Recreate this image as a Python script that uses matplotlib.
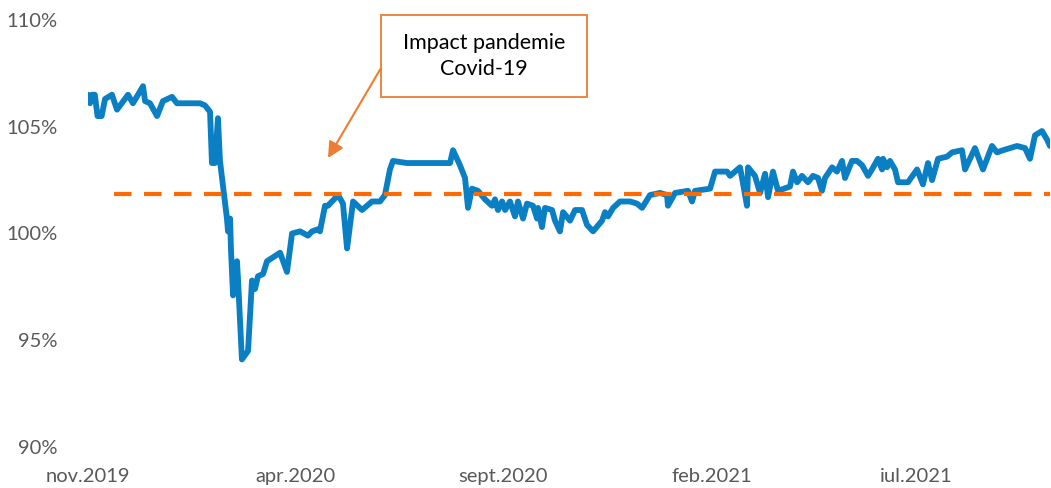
import numpy as np
import pandas as pd
import matplotlib
matplotlib.use("Agg")
import matplotlib.pyplot as plt
from matplotlib.patches import Rectangle

# zile de la 1 nov 2019 si valoarea indicelui (%)
zile = [0, 1.5, 3, 5, 7, 10, 12.5, 17.6, 21.3, 29.4, 33, 36.7, 40.4, 41.9, 45.5, 50.7, 55, 61.7, 65.3,
        82.2, 85.9, 89.6, 91, 93.2, 95.4, 96.9, 102, 102.8, 104.3, 105, 106.5, 109.4, 110.1, 113, 117.5,
        120.4, 122.6, 124.8, 128.5, 131.4, 141, 146.1, 149.8, 155.7, 161.5, 164.5, 168.9, 170.3, 174,
        176.2, 183.6, 187.2, 190.2, 194.6, 201.2, 204.8, 208.5, 214.4, 218, 221.7, 223.9, 234.2, 253.3,
        265.8, 268, 273.1, 276.8, 279, 281.9, 286.3, 291.5, 296.6, 298.8, 301, 304, 306.2, 309.8, 313.5,
        315.7, 319.4, 322.3, 326.7, 329.7, 330.4, 333.3, 335.5, 340.7, 342.9, 346.5, 348.8, 353.9, 357.6,
        362.7, 366.4, 370.8, 377.4, 379.6, 381.8, 385.5, 390.6, 398, 403.1, 406.8, 412.6, 420, 425.1,
        425.8, 431, 440.5, 443.5, 445.7, 456.7, 460.4, 469.2, 471.4, 478.7, 480.2, 483.8, 484.6, 489.7,
        493.4, 497.1, 499.3, 502.9, 506.6, 515.4, 517.6, 520.6, 524.2, 528.6, 532.3, 536, 538.9, 541.1,
        546.3, 549.9, 553.6, 555.8, 560.9, 564.6, 568.3, 572.7, 575.6, 580, 583, 583.7, 586.6, 588.8,
        592.5, 594.7, 602, 608.7, 613, 616.7, 619.7, 624.1, 630.7, 634.4, 641.7, 643.9, 651.2, 657.1,
        663.7, 667.4, 671.8, 682.1, 688, 691.6, 695.3, 700.4, 704.1, 706.3]
valori = [106.5, 106.1, 106.5, 106.5, 105.5, 105.5, 106.3, 106.5, 105.8, 106.5, 106.1, 106.5, 106.9, 106.2,
          106.1, 105.5, 106.2, 106.4, 106.1, 106.1, 106.0, 105.7, 103.3, 103.3, 105.4, 103.4, 100.7, 100.1,
          100.7, 99.2, 97.1, 98.7, 97.9, 94.1, 94.5, 97.8, 97.4, 98.0, 98.1, 98.7, 99.1, 98.2, 100.0, 100.1,
          99.9, 100.1, 100.2, 100.1, 101.3, 101.3, 101.8, 101.4, 99.3, 101.5, 101.1, 101.3, 101.5, 101.5,
          101.8, 103.0, 103.4, 103.3, 103.3, 103.3, 103.9, 103.2, 102.6, 101.2, 102.1, 102.0, 101.6, 101.3,
          101.6, 101.1, 101.5, 101.1, 101.5, 100.8, 101.5, 100.7, 101.4, 101.3, 100.7, 101.2, 100.3, 101.2,
          101.1, 100.6, 100.1, 101.0, 100.6, 101.1, 101.1, 100.4, 100.1, 100.6, 101.0, 100.8, 101.2, 101.5,
          101.5, 101.4, 101.2, 101.8, 101.9, 101.8, 101.3, 101.9, 102.0, 101.5, 102.0, 102.1, 102.9, 102.9,
          102.7, 103.1, 102.6, 101.3, 103.1, 102.7, 101.9, 102.8, 101.7, 102.9, 102.0, 102.2, 102.9, 102.4,
          102.7, 102.4, 102.7, 102.6, 102.0, 102.6, 103.1, 102.9, 103.4, 102.6, 103.4, 103.4, 103.2, 102.7,
          103.0, 103.5, 103.0, 103.5, 103.1, 103.4, 103.0, 102.4, 102.4, 103.0, 102.3, 103.3, 102.5, 103.5,
          103.6, 103.8, 103.9, 103.0, 104.0, 103.0, 104.1, 103.8, 103.9, 104.1, 104.0, 103.5, 104.6, 104.8,
          104.4, 104.1]
nivel_mediu = 101.85

tick_date = ["2019-11-01", "2020-04-01", "2020-09-01", "2021-02-01", "2021-07-01"]
tick_labels = ["nov.2019", "apr.2020", "sept.2020", "feb.2021", "iul.2021"]
y_ticks = [90, 95, 100, 105, 110]

start = pd.Timestamp("2019-11-01")
date = start + pd.to_timedelta(zile, unit="D")

W, H = 1051, 488
plt.rcParams['font.family'] = ['Lato', 'DejaVu Sans']
fig = plt.figure(figsize=(W / 100, H / 100), dpi=100)
ax = fig.add_axes([88 / W, 1 - 447 / H, (1050 - 88) / W, (447 - 20) / H])

ax.plot(date, valori, color='#0a7fc4', lw=4.2, solid_joinstyle='round', solid_capstyle='round')

# linia orizontala punctata
x0 = start + pd.Timedelta(days=19)
ax.plot([x0, date[-1]], [nivel_mediu, nivel_mediu], color='#ff6a00', lw=3, dashes=(4.2, 3))

ax.set_xlim(start, date[-1])
ax.set_ylim(90, 110)
ax.set_yticks(y_ticks)
ax.set_yticklabels([f"{v}%" for v in y_ticks])
ax.set_xticks(pd.to_datetime(tick_date))
ax.set_xticklabels(tick_labels)
ax.tick_params(length=0, labelsize=14.5, colors='#595959')
ax.tick_params(axis='y', pad=22)
ax.tick_params(axis='x', pad=15)
for s in ax.spines.values():
    s.set_visible(False)

# caseta cu adnotare
fig.add_artist(Rectangle((381 / W, 1 - 97 / H), 206 / W, 82 / H, transform=fig.transFigure,
                         facecolor='white', edgecolor='#ed7d31', lw=1.3))
fig.text(484 / W, 1 - 56 / H, "Impact pandemie\nCovid-19", ha='center', va='center',
         fontsize=15.5, color='black', linespacing=1.35)
ax.annotate("", xy=(328 / W, 1 - 158 / H), xycoords='figure fraction',
            xytext=(381 / W, 1 - 68 / H), textcoords='figure fraction',
            arrowprops=dict(arrowstyle='-|>', color='#ed7d31', lw=1.5, mutation_scale=24,
                            shrinkA=0, shrinkB=0))

fig.savefig("out.png", dpi=100)
